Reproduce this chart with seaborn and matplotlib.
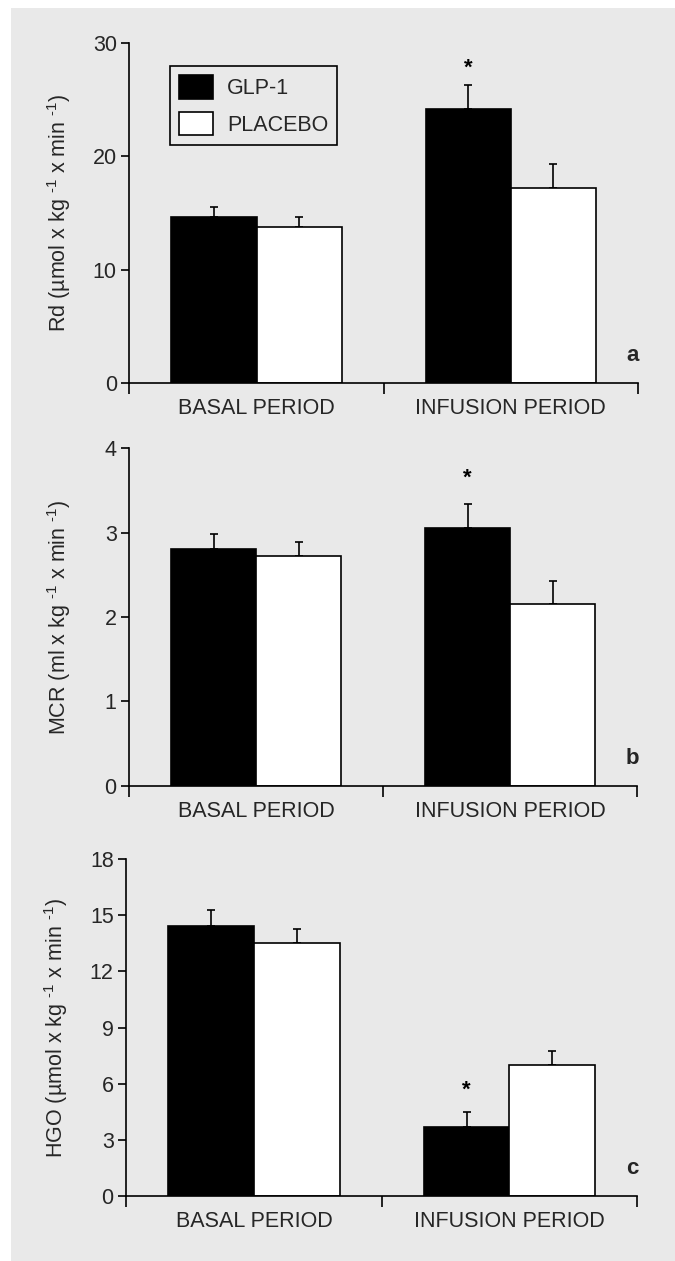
import numpy as np
import pandas as pd
import matplotlib
matplotlib.use("Agg")
import matplotlib.pyplot as plt
from matplotlib.patches import Rectangle
import seaborn as sns

# ---------------- data ----------------
periods = ["BASAL PERIOD", "INFUSION PERIOD"]
groups = ["GLP-1", "PLACEBO"]

rd_glp = [14.7, 24.2]
rd_glp_err = [0.8, 2.1]
rd_pla = [13.8, 17.2]
rd_pla_err = [0.9, 2.1]

mcr_glp = [2.81, 3.05]
mcr_glp_err = [0.17, 0.29]
mcr_pla = [2.72, 2.16]
mcr_pla_err = [0.17, 0.27]

hgo_glp = [14.45, 3.67]
hgo_glp_err = [0.82, 0.80]
hgo_pla = [13.52, 7.01]
hgo_pla_err = [0.76, 0.75]

panel_letters = ["a", "b", "c"]
ylabels = [r"Rd (µmol x kg $^{\text{-1}}$ x min $^{\text{-1}}$)",
           r"MCR (ml x kg $^{\text{-1}}$ x min $^{\text{-1}}$)",
           r"HGO (µmol x kg $^{\text{-1}}$ x min $^{\text{-1}}$)"]
yticks_list = [[0, 10, 20, 30], [0, 1, 2, 3, 4], [0, 3, 6, 9, 12, 15, 18]]
star_y = [27.8, 3.64, 5.66]  # asterisk above GLP-1 infusion bar

# ---------------- fonts ----------------
fam = "Liberation Sans"
sns.set_theme(style="white")
plt.rcParams["font.family"] = [fam, "DejaVu Sans"]
plt.rcParams["mathtext.fontset"] = "custom"
plt.rcParams["mathtext.rm"] = fam
plt.rcParams["mathtext.it"] = fam
plt.rcParams["mathtext.bf"] = fam
plt.rcParams["mathtext.default"] = "regular"

BG = "#e9e9e9"
fig = plt.figure(figsize=(6.75, 12.61), dpi=100, facecolor="white")
fig.patches.append(Rectangle((11 / 675, 0), 1, 1 - 8 / 1261, transform=fig.transFigure,
                             facecolor=BG, edgecolor="none", zorder=-10))

rects = [
    [0.1916, 0.6963, 0.7536, 0.2694],
    [0.1913, 0.3769, 0.7526, 0.2676],
    [0.1870, 0.0515, 0.7570, 0.2672],
]
data = [
    (rd_glp, rd_glp_err, rd_pla, rd_pla_err),
    (mcr_glp, mcr_glp_err, mcr_pla, mcr_pla_err),
    (hgo_glp, hgo_glp_err, hgo_pla, hgo_pla_err),
]

for i, (rect, (g, ge, p, pe)) in enumerate(zip(rects, data)):
    ax = fig.add_axes(rect)
    ax.set_facecolor("none")
    df = pd.DataFrame({
        "period": periods * 2,
        "group": [groups[0]] * 2 + [groups[1]] * 2,
        "value": list(g) + list(p),
    })
    sns.barplot(data=df, x="period", y="value", hue="group", order=periods,
                hue_order=groups, palette={"GLP-1": "black", "PLACEBO": "white"},
                edgecolor="black", linewidth=1.2, width=0.67, gap=0,
                errorbar=None, ax=ax, legend=(i == 0), zorder=2)
    # upward-only error bars at bar centres
    for cont, errs in zip(ax.containers, [ge, pe]):
        xs = [b.get_x() + b.get_width() / 2 for b in cont]
        hs = [b.get_height() for b in cont]
        ax.errorbar(xs, hs, yerr=[np.zeros(len(errs)), errs], fmt="none",
                    ecolor="black", elinewidth=1.2, capsize=3, capthick=1.2, zorder=1)
    # asterisk above GLP-1 infusion bar
    glp_inf = ax.containers[0][1]
    ax.text(glp_inf.get_x() + glp_inf.get_width() / 2, star_y[i], "*",
            ha="center", va="center", fontsize=16, fontweight="bold", color="black")

    yt = yticks_list[i]
    ax.set_ylim(0, yt[-1])
    ax.set_xlim(-0.5, 1.5)
    ax.set_yticks(yt)
    ax.set_yticklabels([str(v) for v in yt])
    ax.set_xticks([-0.5, 0.5, 1.5])
    ax.set_xticklabels(["", "", ""])
    ax.set_xticks([0, 1], minor=True)
    ax.set_xticklabels(periods, minor=True, fontsize=15.5)
    ax.tick_params(axis="x", which="major", direction="out", length=8, width=1.2,
                   bottom=True, color="black")
    ax.tick_params(axis="x", which="minor", length=0, pad=11, bottom=True)
    ax.tick_params(axis="y", which="major", direction="out", length=6, width=1.2,
                   left=True, labelsize=15.5, pad=3, color="black")
    for s in ["top", "right"]:
        ax.spines[s].set_visible(False)
    for s in ["left", "bottom"]:
        ax.spines[s].set_color("black")
        ax.spines[s].set_linewidth(1.2)
    ax.set_xlabel("")
    ax.set_ylabel(ylabels[i], fontsize=15.5)
    ax.yaxis.set_label_coords(-0.11, 0.5)
    ax.text(0.99, 0.082, panel_letters[i], transform=ax.transAxes, ha="center",
            va="center", fontsize=16, fontweight="bold")

    if i == 0:
        handles, labels = ax.get_legend_handles_labels()
        ax.legend(handles, labels, loc="upper left", bbox_to_anchor=(0.08, 0.933),
                  borderaxespad=0, frameon=True, fancybox=False, facecolor=BG,
                  edgecolor="black", framealpha=1, fontsize=15.5, handlelength=1.58,
                  handleheight=1.3, handletextpad=0.65, labelspacing=0.6,
                  borderpad=0.42)
        ax.get_legend().get_frame().set_linewidth(1.2)

fig.savefig("out.png", dpi=100, facecolor="white")
